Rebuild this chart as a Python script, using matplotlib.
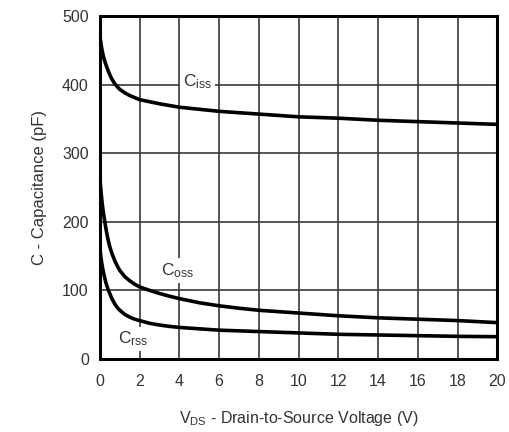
import numpy as np
import matplotlib.pyplot as plt

plt.rcParams['font.family'] = ['Liberation Sans', 'DejaVu Sans']
plt.rcParams['mathtext.fontset'] = 'custom'
plt.rcParams['mathtext.rm'] = 'Liberation Sans'
plt.rcParams['mathtext.default'] = 'regular'

# drain-to-source voltage (V)
vds = [0, 0.05, 0.1, 0.15, 0.2, 0.3, 0.4, 0.5, 0.6, 0.75, 0.9, 1.0, 1.25, 1.5, 1.75,
       2, 2.5, 3, 3.5, 4, 5, 6, 7, 8, 9, 10, 12, 14, 16, 18, 20]
# capacitances (pF)
ciss = [470, 460, 451, 444, 438, 429, 421, 414, 408, 401, 396, 393, 388, 384, 381,
        378, 375, 372, 369.5, 367, 364, 361, 359, 357, 355, 353, 351, 348, 346, 344, 342]
coss = [262, 245, 230, 218, 208, 190, 175, 163, 154, 143, 134, 129, 120, 114, 109,
        105, 100, 95.5, 91.5, 88, 82, 77.5, 74, 71, 69, 67, 63, 60, 58, 56, 53]
crss = [160, 148, 138, 130, 123, 111, 102, 95, 88, 80, 74, 71, 65, 61, 58,
        56, 52, 49.5, 47.5, 46, 44, 42, 41, 40, 39, 38, 36, 35, 34, 33, 32.5]

x_ticks = [0, 2, 4, 6, 8, 10, 12, 14, 16, 18, 20]
y_ticks = [0, 100, 200, 300, 400, 500]

fig = plt.figure(figsize=(5.1, 4.32), dpi=100)
ax = fig.add_axes([0.196, 0.169, 0.779, 0.794])

for curve in (ciss, coss, crss):
    ax.plot(vds, curve, color='black', lw=2.6, solid_joinstyle='round', zorder=4)

ax.set_xlim(0, 20)
ax.set_ylim(0, 500)
ax.set_xticks(x_ticks)
ax.set_yticks(y_ticks)
ax.grid(True, color='#3a3a3a', lw=1.2, zorder=1)
ax.set_axisbelow(True)
ax.tick_params(length=0, labelsize=11.5, labelcolor='#333333')
ax.tick_params(axis='x', pad=11)
ax.tick_params(axis='y', pad=8)
for s in ax.spines.values():
    s.set_linewidth(2.2)
    s.set_zorder(5)

box = dict(facecolor='white', edgecolor='none', pad=2)
ax.text(4.9, 404, r'C$_{iss}$', ha='center', va='center', fontsize=12.5,
        color='#333333', bbox=box, zorder=3)
ax.text(3.9, 129, r'C$_{oss}$', ha='center', va='center', fontsize=12.5,
        color='#333333', bbox=box, zorder=3)
ax.text(1.7, 29, r'C$_{rss}$', ha='center', va='center', fontsize=12.5,
        color='#333333', bbox=box, zorder=3)

ax.set_xlabel(r'V$_{DS}$ - Drain-to-Source Voltage (V)', fontsize=11.5,
              color='#333333', labelpad=14)
ax.set_ylabel('C - Capacitance (pF)', fontsize=12, color='#333333', labelpad=11)

fig.savefig('out.png', dpi=100)
